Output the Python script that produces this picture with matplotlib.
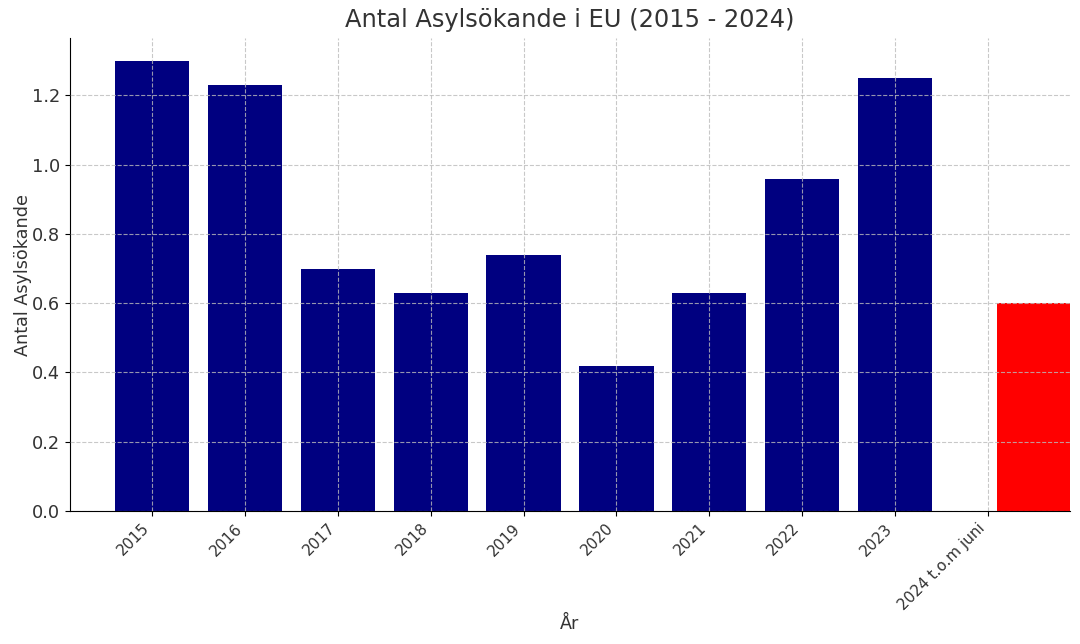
import matplotlib
matplotlib.use("Agg")
import matplotlib.pyplot as plt
import numpy as np

years = ["2015", "2016", "2017", "2018", "2019", "2020", "2021", "2022", "2023", "2024 t.o.m juni"]
values = [1.30, 1.23, 0.70, 0.63, 0.74, 0.42, 0.63, 0.96, 1.25]
value_2024 = 0.60

txt = "#333333"
plt.rcParams['font.family'] = ['DejaVu Sans']

fig = plt.figure(figsize=(10.8, 6.44), dpi=100)
ax = fig.add_axes([0.0648, 0.2065, 0.926, 0.734])

x = np.arange(len(years))
ax.bar(x[:-1], values, width=0.8, color="navy")
# the 2024 bar sits half a step to the right of its tick
ax.bar(x[-1] + 0.5, value_2024, width=0.8, color="red")

ax.set_xticks(x)
ax.set_xticklabels(years, rotation=45, ha="right", fontsize=11, color=txt)
ax.tick_params(axis="y", labelsize=12.8, labelcolor=txt)
ax.set_xlim(-0.885, 9.885)
ax.set_ylim(0, 1.365)
ax.set_yticks([0.0, 0.2, 0.4, 0.6, 0.8, 1.0, 1.2])

ax.grid(True, linestyle="--", color="#bbbbbb", linewidth=0.8, alpha=0.8)
ax.set_axisbelow(False)
ax.spines["top"].set_visible(False)
ax.spines["right"].set_visible(False)

ax.set_title("Antal Asylsökande i EU (2015 - 2024)", fontsize=17.4, color=txt, pad=8)
ax.set_xlabel("År", fontsize=12.7, color=txt, labelpad=1)
ax.set_ylabel("Antal Asylsökande", fontsize=12.7, color=txt, labelpad=0)

fig.savefig("out.png", dpi=100)
